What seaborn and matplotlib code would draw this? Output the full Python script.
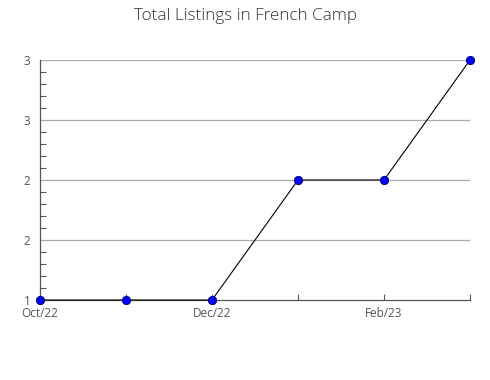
import matplotlib
matplotlib.use("Agg")
import matplotlib.pyplot as plt
import seaborn as sns
import pandas as pd
from matplotlib.ticker import MultipleLocator

months = ["Oct/22", "Nov/22", "Dec/22", "Jan/23", "Feb/23", "Mar/23"]
listings = [1, 1, 1, 2, 2, 3]
y_ticks = [1, 1.5, 2, 2.5, 3]
y_tick_labels = ["1", "2", "2", "3", "3"]
x_label_every = 2

sns.set_theme(style="white")
plt.rcParams["font.family"] = ["Open Sans", "DejaVu Sans"]

df = pd.DataFrame({"idx": range(len(months)), "value": listings})

fig = plt.figure(figsize=(4.9, 3.8), dpi=100)
ax = fig.add_axes([40/490, 80/380, 430/490, 240/380])

for y in y_ticks[1:]:
    ax.axhline(y, color="#aaaaaa", lw=0.9, zorder=0)

sns.lineplot(data=df, x="idx", y="value", ax=ax, color="black", lw=0.8,
             marker="o", markersize=6, markerfacecolor="#0000ff",
             markeredgecolor="#000066", markeredgewidth=0.6, clip_on=False, zorder=3)

ax.set_xlim(0, len(months) - 1)
ax.set_ylim(1, 3)
ax.set_xticks(range(len(months)))
ax.set_xticklabels([m if i % x_label_every == 0 else "" for i, m in enumerate(months)])
ax.set_yticks(y_ticks)
ax.set_yticklabels(y_tick_labels)
ax.yaxis.set_minor_locator(MultipleLocator(0.1))
ax.set_xlabel("")
ax.set_ylabel("")

for s in ["top", "right"]:
    ax.spines[s].set_visible(False)
for s in ["left", "bottom"]:
    ax.spines[s].set_color("#555555")
    ax.spines[s].set_linewidth(0.9)

ax.tick_params(axis="both", which="both", colors="#555555", labelcolor="#555555",
               labelsize=8.5, direction="in")
ax.tick_params(axis="y", which="major", length=4, width=0.8, pad=7)
ax.tick_params(axis="y", which="minor", length=4, width=0.8, left=True)
ax.tick_params(axis="x", which="major", length=4, width=0.8, pad=5, bottom=True)

fig.suptitle("Total Listings in French Camp", y=0.98, fontsize=12.3,
             color="#333333", fontweight="light")

fig.savefig("out.png", dpi=100)
